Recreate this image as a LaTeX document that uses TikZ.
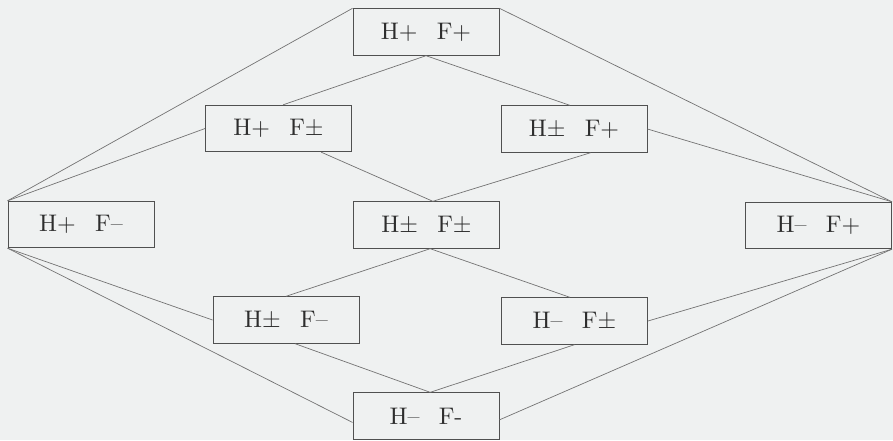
\documentclass[tikz,border=0pt]{standalone}
\usetikzlibrary{calc}

\definecolor{paper}{RGB}{239,241,241}
\definecolor{frame}{RGB}{80,80,80}
\definecolor{edge}{RGB}{115,115,115}
\definecolor{ink}{RGB}{45,45,45}

\tikzset{
  state/.style={draw=frame, line width=0.9pt, minimum width=146pt,
    minimum height=46.5pt, inner sep=0pt, text=ink},
  link/.style={draw=edge, line width=0.7pt},
}
% two signs of a state, set apart by a wide gap, in an enlarged text face
\newcommand{\signpair}[2]{\scalebox{2.4}{#1\hspace{0.8em}#2}}

\begin{document}
\begin{tikzpicture}[x=1pt,y=-1pt]
  \fill[paper] (0,0) rectangle (893,440);
  \useasboundingbox (0,0) rectangle (893,440);

  % states of the lattice
  \node[state] (HpFp)   at (426,32)    {\signpair{H+}{F+}};
  \node[state] (HpFpm)  at (278.5,128.5) {\signpair{H+}{F$\pm$}};
  \node[state] (HpmFp)  at (574,129)   {\signpair{H$\pm$}{F+}};
  \node[state] (HpFm)   at (81,224.5)  {\signpair{H+}{F--}};
  \node[state] (HpmFpm) at (426.5,225) {\signpair{H$\pm$}{F$\pm$}};
  \node[state] (HmFp)   at (818.5,225.5) {\signpair{H--}{F+}};
  \node[state] (HpmFm)  at (286,320)   {\signpair{H$\pm$}{F--}};
  \node[state] (HmFpm)  at (574.5,321) {\signpair{H--}{F$\pm$}};
  \node[state] (HmFm)   at (426,416)   {\signpair{H--}{F-}};

  % upper half
  \draw[link] (HpFp.north west) -- (HpFm.north west);
  \draw[link] (HpFp.north east) -- (HmFp.north east);
  \draw[link] (HpFp.south) -- (HpFpm.79);
  \draw[link] (HpFp.south) -- (HpmFp.100);
  \draw[link] (HpFpm.west) -- (HpFm.north west);
  \draw[link] (HpmFp.east) -- (HmFp.north east);
  \draw[link] (HpFpm.-29) -- (HpmFpm.75);
  \draw[link] (HpmFp.-55) -- (HpmFpm.75);

  % lower half
  \draw[link] (HpmFpm.-81) -- (HpmFm.north);
  \draw[link] (HpmFpm.-81) -- (HmFpm.101);
  \draw[link] (HpFm.south west) -- (HpmFm.west);
  \draw[link] (HpFm.south west) -- (HmFm.185);
  \draw[link] (HmFp.south east) -- (HmFpm.east);
  \draw[link] (HmFp.south east) -- (HmFm.-3);
  \draw[link] (HpmFm.-69) -- (HmFm.80);
  \draw[link] (HmFpm.south) -- (HmFm.80);
\end{tikzpicture}
\end{document}
